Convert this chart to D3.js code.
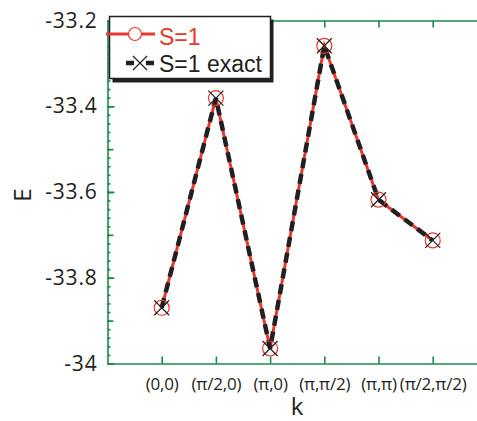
<!DOCTYPE html>
<html>
<head>
<meta charset="utf-8">
<script src="https://cdn.jsdelivr.net/npm/d3@7"></script>
<style>
  html, body { margin: 0; padding: 0; background: #fff; }
  svg { display: block; font-family: "Open Sans", sans-serif; }
</style>
</head>
<body>
<div id="chart"></div>
<script>
// k points along the path
const kLabels = ['(0,0)', '(π/2,0)', '(π,0)', '(π,π/2)', '(π,π)', '(π/2,π/2)'];
const kIndex = [0, 1, 2, 3, 4, 5];

// energies
const energyS1      = [-33.870, -33.381, -33.965, -33.259, -33.618, -33.713];
const energyS1Exact = [-33.870, -33.381, -33.965, -33.259, -33.618, -33.713];

// y tick labels
const yTicks = [-34, -33.8, -33.6, -33.4, -33.2];

const COLOR_AXIS  = '#1b8a4c';
const COLOR_RED   = '#e5392e';
const COLOR_BLACK = '#231f20';
const COLOR_TEXT  = '#231f20';

const width = 477, height = 421;

const svg = d3.select('#chart').append('svg')
    .attr('width', width)
    .attr('height', height);

// plot area runs past the right edge of the picture
const x = d3.scaleLinear()
    .domain([-1, 6])
    .range([107.5, 107.5 + 7 * 54.2]);
const y = d3.scaleLinear()
    .domain([-34, -33.2])
    .range([363.5, 20.5]);

// minor / medium tick positions on y
const minorTicks = d3.range(0, 41).map(i => -34 + i * 0.02);
const midTicks = d3.range(0, 9).map(i => -34 + i * 0.1);

// left axis: minor ticks
svg.append('g')
    .attr('transform', `translate(${x(-1)},0)`)
    .call(d3.axisLeft(y).tickValues(minorTicks).tickSize(-3).tickFormat('').tickSizeOuter(0))
    .call(g => g.select('.domain').remove());
svg.append('g')
    .attr('transform', `translate(${x(-1)},0)`)
    .call(d3.axisLeft(y).tickValues(midTicks).tickSize(-6).tickFormat('').tickSizeOuter(0))
    .call(g => g.select('.domain').remove());
// left axis with labels
svg.append('g')
    .attr('class', 'yaxis')
    .attr('transform', `translate(${x(-1)},0)`)
    .call(d3.axisLeft(y).tickValues(yTicks).tickSize(-7).tickPadding(10)
        .tickFormat(d => String(d)).tickSizeOuter(0));

// bottom axis
svg.append('g')
    .attr('class', 'xaxis')
    .attr('transform', `translate(0,${y(-34)})`)
    .call(d3.axisBottom(x).tickValues(kIndex).tickSize(-7).tickPadding(14)
        .tickFormat(i => kLabels[i]).tickSizeOuter(0));

// top axis
svg.append('g')
    .attr('transform', `translate(0,${y(-33.2)})`)
    .call(d3.axisTop(x).tickValues(kIndex).tickSize(-7).tickFormat('').tickSizeOuter(0));

svg.selectAll('.domain, .tick line')
    .attr('stroke', COLOR_AXIS)
    .attr('stroke-width', 1.6);

svg.selectAll('.yaxis text')
    .attr('font-size', 21)
    .attr('letter-spacing', 0.8)
    .attr('fill', COLOR_TEXT)
    .attr('font-family', '"Open Sans", sans-serif');
svg.selectAll('.xaxis text')
    .attr('font-size', 17)
    .attr('letter-spacing', -0.2)
    .attr('fill', COLOR_TEXT)
    .attr('font-family', '"Open Sans", sans-serif');

// axis titles
svg.append('text')
    .attr('transform', 'translate(31,195) rotate(-90)')
    .attr('text-anchor', 'middle')
    .attr('font-size', 24)
    .attr('fill', COLOR_TEXT)
    .text('E');
svg.append('text')
    .attr('x', 297).attr('y', 415)
    .attr('text-anchor', 'middle')
    .attr('font-size', 24)
    .attr('fill', COLOR_TEXT)
    .text('k');

// lines
const line = d3.line()
    .x((d, i) => x(kIndex[i]))
    .y(d => y(d));

svg.append('path')
    .datum(energyS1)
    .attr('fill', 'none')
    .attr('stroke', COLOR_RED)
    .attr('stroke-width', 3)
    .attr('d', line);

svg.append('path')
    .datum(energyS1Exact)
    .attr('fill', 'none')
    .attr('stroke', COLOR_BLACK)
    .attr('stroke-width', 4.5)
    .attr('stroke-dasharray', '10,6')
    .attr('d', line);

// markers
function cross(sel, cx, cy, s) {
    sel.append('path')
        .attr('d', `M${cx - s},${cy - s}L${cx + s},${cy + s}M${cx - s},${cy + s}L${cx + s},${cy - s}`)
        .attr('stroke', COLOR_BLACK)
        .attr('stroke-width', 1.2)
        .attr('fill', 'none');
}

svg.append('g').selectAll('circle')
    .data(energyS1)
    .join('circle')
    .attr('cx', (d, i) => x(kIndex[i]))
    .attr('cy', d => y(d))
    .attr('r', 7.5)
    .attr('fill', 'none')
    .attr('stroke', COLOR_RED)
    .attr('stroke-width', 1.2);

const crosses = svg.append('g');
energyS1Exact.forEach((d, i) => cross(crosses, x(kIndex[i]), y(d), 7.5));

// legend
const lg = svg.append('g');
lg.append('rect')
    .attr('x', 112.5).attr('y', 19.5)
    .attr('width', 161).attr('height', 63)
    .attr('fill', COLOR_BLACK);
lg.append('rect')
    .attr('x', 109.5).attr('y', 16.5)
    .attr('width', 161).attr('height', 62)
    .attr('fill', '#fff')
    .attr('stroke', COLOR_BLACK)
    .attr('stroke-width', 1.5);

lg.append('line')
    .attr('x1', 106).attr('x2', 155).attr('y1', 34).attr('y2', 34)
    .attr('stroke', COLOR_RED).attr('stroke-width', 3);
lg.append('circle')
    .attr('cx', 135).attr('cy', 34).attr('r', 6.5)
    .attr('fill', '#fff').attr('stroke', COLOR_RED).attr('stroke-width', 1.2);
lg.append('text')
    .attr('x', 159).attr('y', 45)
    .attr('font-size', 23)
    .attr('font-family', '"Liberation Sans", sans-serif')
    .attr('fill', COLOR_RED)
    .text('S=1');

lg.append('line')
    .attr('x1', 126).attr('x2', 155).attr('y1', 63).attr('y2', 63)
    .attr('stroke', COLOR_BLACK).attr('stroke-width', 4.5)
    .attr('stroke-dasharray', '8,12');
cross(lg, 140, 63, 7);
lg.append('text')
    .attr('x', 159).attr('y', 71.5)
    .attr('font-size', 23)
    .attr('font-family', '"Liberation Sans", sans-serif')
    .attr('fill', COLOR_TEXT)
    .text('S=1 exact');
</script>
</body>
</html>
